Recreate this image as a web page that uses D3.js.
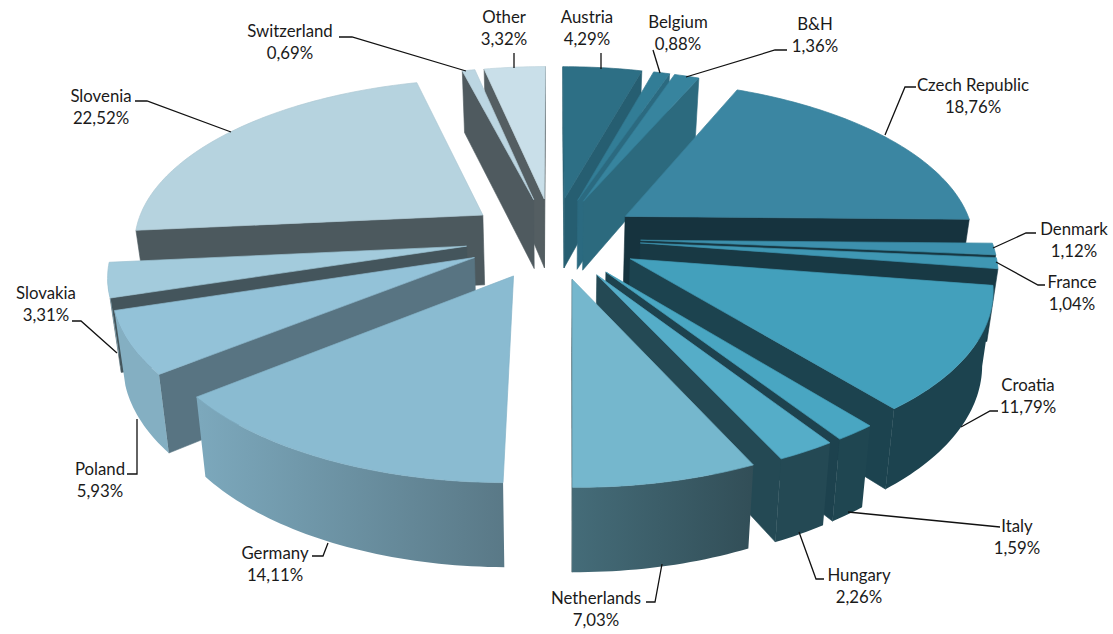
<!DOCTYPE html>
<html><head><meta charset="utf-8">
<script src="https://cdnjs.cloudflare.com/ajax/libs/d3/7.8.5/d3.min.js"></script>
<style>html,body{margin:0;padding:0;background:#fff}svg{display:block}
text{font-family:Lato,"Open Sans",sans-serif;font-size:16.8px;fill:#1a1a1a}</style>
</head><body><svg id="c" width="1113" height="634"></svg>
<script>
const categories=["Austria","Belgium","B&H","Czech Republic","Denmark","France","Croatia","Italy","Hungary","Netherlands","Germany","Poland","Slovakia","Slovenia","Switzerland","Other"];
const shares=[4.29,0.88,1.36,18.76,1.12,1.04,11.79,1.59,2.26,7.03,14.11,5.93,3.31,22.52,0.69,3.32];
const shareLabels=["4,29%","0,88%","1,36%","18,76%","1,12%","1,04%","11,79%","1,59%","2,26%","7,03%","14,11%","5,93%","3,31%","22,52%","0,69%","3,32%"];
const topColors=["#2d6f85","#327d96","#37849e","#3b86a2","#3d90ad","#3f97b3","#43a0bc","#49a6c2","#55adc8","#75b7cd","#8abbd1","#93c2d8","#a3cbdc","#b6d3df","#bcd6e2","#c9dfe9"];
const faceShades=[.85,.85,.8,.38,.38,.38,.42,.4,.42,.42,0,.6,.42,.42,.42,.42];
const labelX=[587,678,815,973,1074,1072,1028,1017,859,596,275,100,46,101,290,504];
const labelY=[18,23,25,86,230,283,386,527,576,599,554,470,294,97,32,18];
const leaders=[
 [[601,53],[601,69]],[[653,50],[660,73]],[[787,50],[775,50],[686,77]],[[916,87],[905,87],[885,135]],
 [[1036,233],[1026,233],[993,248]],[[1045,285],[1038,285],[996,262]],[[998,411],[990,411],[961,427]],
 [[1000,527],[848,512]],[[824,579],[816,579],[799,532]],[[646,602],[655,602],[662,564]],
 [[312,556],[323,556],[328,543]],[[127,474],[137,474],[137,419]],[[72,321],[81,321],[117,353]],
 [[135,101],[147,101],[231,132]],[[339,37],[352,37],[466,71]],[[514,53],[514,68]]];

const cx=553,cy=238,rx=350,ry=163,k=0.15,explode=0.25,depth=71,shrink=0.975,shrinkY=0.99;
function project(u,v,bottom){
  const s=1/(1-k*v);
  return [cx+rx*u*s*(bottom?shrink:1), cy+(ry*v*(bottom?shrinkY:1)+(bottom?depth:0))*s];
}
const svg=d3.select("#c");
const defs=svg.append("defs");
const pie=d3.pie().sort(null).value(d=>d)(shares);
const shadeX=[200,560,760],shadeF=[.9,.6,.42];
const shade=(c,f)=>{const r=d3.rgb(c);return d3.rgb(r.r*f,r.g*f,r.b*f).formatHex();};
const line=d3.line();
const slices=pie.map((p,i)=>{
  const mid=(p.startAngle+p.endAngle)/2;
  const ou=explode*Math.sin(mid),ov=-explode*Math.cos(mid);
  const n=Math.max(4,Math.ceil((p.endAngle-p.startAngle)/0.02));
  const arc=d3.range(n+1).map(j=>{const a=p.startAngle+(p.endAngle-p.startAngle)*j/n;return [ou+Math.sin(a),ov-Math.cos(a)];});
  return {i,ou,ov,arc};
}).sort((a,b)=>a.ov-b.ov);
slices.forEach(S=>{
  const lg=defs.append("linearGradient").attr("id","w"+S.i).attr("gradientUnits","userSpaceOnUse")
    .attr("x1",shadeX[0]).attr("x2",shadeX[2]).attr("y1",0).attr("y2",0);
  shadeX.forEach((x,j)=>lg.append("stop").attr("offset",(x-shadeX[0])/(shadeX[2]-shadeX[0])).attr("stop-color",shade(topColors[S.i],shadeF[j])));
});
const g=svg.append("g");
slices.forEach(S=>{
  const c=topColors[S.i];
  const apex=[S.ou,S.ov];
  const faces=[[apex,S.arc[0]],[S.arc[S.arc.length-1],apex]];
  const fc=shade(c,faceShades[S.i]);
  if(faceShades[S.i]>0) faces.forEach(([a,b])=>{
    const q=[project(a[0],a[1],false),project(b[0],b[1],false),project(b[0],b[1],true),project(a[0],a[1],true)];
    if(q[1][0]<q[0][0]) g.append("path").attr("d",line(q)+"Z").attr("fill",fc).attr("stroke",fc).attr("stroke-width",.6);
  });
  const tops=S.arc.map(p=>project(p[0],p[1],false));
  const bots=S.arc.map(p=>project(p[0],p[1],true));
  let run=[];
  const flush=()=>{
    if(run.length>1){
      const poly=[...run.map(j=>tops[j]),...run.slice().reverse().map(j=>bots[j])];
      g.append("path").attr("d",line(poly)+"Z").attr("fill",`url(#w${S.i})`);
    }
    run=[];
  };
  for(let j=0;j<tops.length-1;j++){
    if(tops[j+1][0]<tops[j][0]){ if(!run.length) run.push(j); run.push(j+1);} else flush();
  }
  flush();
  const top=[apex,...S.arc].map(p=>project(p[0],p[1],false));
  g.append("path").attr("d",line(top)+"Z").attr("fill",c).attr("stroke",shade(c,.95)).attr("stroke-width",.7).attr("stroke-linejoin","round");
});
leaders.forEach(l=>svg.append("path").attr("d",line(l)).attr("fill","none").attr("stroke","#111").attr("stroke-width",1.3));
categories.forEach((n,i)=>{
  const t=svg.append("text").attr("text-anchor","middle").attr("x",labelX[i]);
  t.append("tspan").attr("x",labelX[i]).attr("y",labelY[i]+5).text(n);
  t.append("tspan").attr("x",labelX[i]).attr("y",labelY[i]+27).text(shareLabels[i]);
});
</script></body></html>
